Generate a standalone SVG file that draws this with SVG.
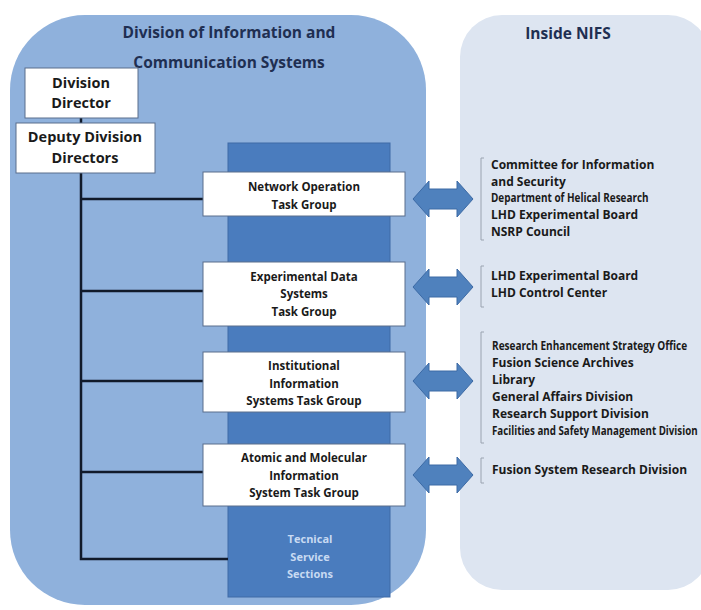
<svg xmlns="http://www.w3.org/2000/svg" width="701" height="610" viewBox="0 0 701 610">
  <style>
    text { font-family: "Open Sans", "Liberation Sans", Arial, sans-serif; font-weight: bold; }
    .title { font-size: 15.5px; fill: #1f2f52; text-anchor: middle; }
    .box { fill: #ffffff; stroke: #5a6e8c; stroke-width: 1; }
    .boxtxt { font-size: 11.5px; fill: #1a1a1a; text-anchor: middle; }
    .dirtxt { font-size: 14.5px; fill: #1a1a1a; text-anchor: middle; }
    .list { font-size: 12px; fill: #1a1a1a; }
    .tss { font-size: 11px; fill: #c8daf2; text-anchor: middle; }
    .bracket { fill: none; stroke: #9aa3b0; stroke-width: 1; }
    .link { fill: none; stroke: #111a2a; stroke-width: 2.5; }
    .arrow { fill: #4f81bd; stroke: #3c6aa5; stroke-width: 1; }
  </style>

  <rect width="701" height="610" fill="#ffffff"/>

  <!-- panels -->
  <g id="division-panel">
    <rect x="10" y="15" width="416" height="590" rx="75" ry="75" fill="#8fb1dc"/>
    <text class="title" x="229" y="38">Division of Information and</text>
    <text class="title" x="229" y="68">Communication  Systems</text>
  </g>
  <g id="nifs-panel">
    <rect x="460" y="15" width="250" height="575" rx="42" ry="42" fill="#dde5f1"/>
    <text class="title" x="568" y="39" font-size="16">Inside NIFS</text>
  </g>

  <!-- technical service sections column -->
  <g id="technical-service">
    <rect x="228" y="143" width="162" height="454" fill="#4a7cbe" stroke="#3f6aa6" stroke-width="1"/>
    <text class="tss" x="310" y="543">Tecnical</text>
    <text class="tss" x="310" y="561">Service</text>
    <text class="tss" x="310" y="578">Sections</text>
  </g>

  <!-- connectors -->
  <g id="connectors">
    <line class="link" x1="81" y1="117" x2="81" y2="124"/>
    <path class="link" d="M81,173 V559 H228"/>
    <line class="link" x1="81" y1="199" x2="203" y2="199"/>
    <line class="link" x1="81" y1="291" x2="203" y2="291"/>
    <line class="link" x1="81" y1="381" x2="203" y2="381"/>
    <line class="link" x1="81" y1="472" x2="203" y2="472"/>
  </g>

  <g id="division-director">
    <rect class="box" x="25" y="68" width="113" height="50"/>
    <text class="dirtxt" x="81" y="88">Division</text>
    <text class="dirtxt" x="81" y="108">Director</text>
  </g>
  <g id="deputy-directors">
    <rect class="box" x="16" y="123" width="139" height="50"/>
    <text class="dirtxt" x="85" y="142">Deputy Division</text>
    <text class="dirtxt" x="85" y="163">Directors</text>
  </g>

  <g id="network-operation">
    <rect class="box" x="203" y="172" width="202" height="44"/>
    <text class="boxtxt" x="304" y="191">Network Operation</text>
    <text class="boxtxt" x="304" y="209">Task Group</text>
  </g>
  <g id="experimental-data">
    <rect class="box" x="203" y="262" width="202" height="64"/>
    <text class="boxtxt" x="304" y="281">Experimental Data</text>
    <text class="boxtxt" x="304" y="298">Systems</text>
    <text class="boxtxt" x="304" y="316">Task Group</text>
  </g>
  <g id="institutional-information">
    <rect class="box" x="203" y="352" width="202" height="60"/>
    <text class="boxtxt" x="304" y="370">Institutional</text>
    <text class="boxtxt" x="304" y="388">Information</text>
    <text class="boxtxt" x="304" y="405">Systems Task Group</text>
  </g>
  <g id="atomic-molecular">
    <rect class="box" x="203" y="444" width="202" height="62"/>
    <text class="boxtxt" x="304" y="462">Atomic and Molecular</text>
    <text class="boxtxt" x="304" y="480">Information</text>
    <text class="boxtxt" x="304" y="497">System Task Group</text>
  </g>

  <!-- double-headed block arrows -->
  <defs>
    <path id="dbl-arrow" d="M0,0 L16,-18 L16,-10 L44,-10 L44,-18 L60,0 L44,18 L44,10 L16,10 L16,18 Z"/>
  </defs>
  <g id="link-arrows">
    <use href="#dbl-arrow" class="arrow" x="413" y="199"/>
    <use href="#dbl-arrow" class="arrow" x="413" y="287"/>
    <use href="#dbl-arrow" class="arrow" x="413" y="381"/>
    <use href="#dbl-arrow" class="arrow" x="413" y="475"/>
  </g>

  <g id="list-network">
    <path class="bracket" d="M484,158 H481 V240 H484"/>
    <text class="list" x="491" y="169">Committee for Information</text>
    <text class="list" x="491" y="186">and Security</text>
    <text class="list" transform="translate(491,202) scale(0.8,1)" textLength="197" lengthAdjust="spacingAndGlyphs">Department of Helical Research</text>
    <text class="list" x="491" y="219">LHD Experimental Board</text>
    <text class="list" x="491" y="236">NSRP Council</text>
  </g>
  <g id="list-experimental">
    <path class="bracket" d="M484,266 H481 V307 H484"/>
    <text class="list" x="491" y="280">LHD Experimental Board</text>
    <text class="list" x="491" y="297">LHD Control Center</text>
  </g>
  <g id="list-institutional">
    <path class="bracket" d="M484,332 H481 V443 H484"/>
    <text class="list" transform="translate(492,350) scale(0.8,1)" textLength="244" lengthAdjust="spacingAndGlyphs">Research Enhancement Strategy Office</text>
    <text class="list" x="492" y="367">Fusion Science Archives</text>
    <text class="list" x="492" y="384">Library</text>
    <text class="list" x="492" y="401">General Affairs Division</text>
    <text class="list" x="492" y="418">Research Support Division</text>
    <text class="list" transform="translate(492,435) scale(0.8,1)" textLength="257" lengthAdjust="spacingAndGlyphs">Facilities and Safety Management Division</text>
  </g>
  <g id="list-atomic">
    <path class="bracket" d="M484,458 H481 V483 H484"/>
    <text class="list" x="492" y="474">Fusion System Research Division</text>
  </g>
</svg>
